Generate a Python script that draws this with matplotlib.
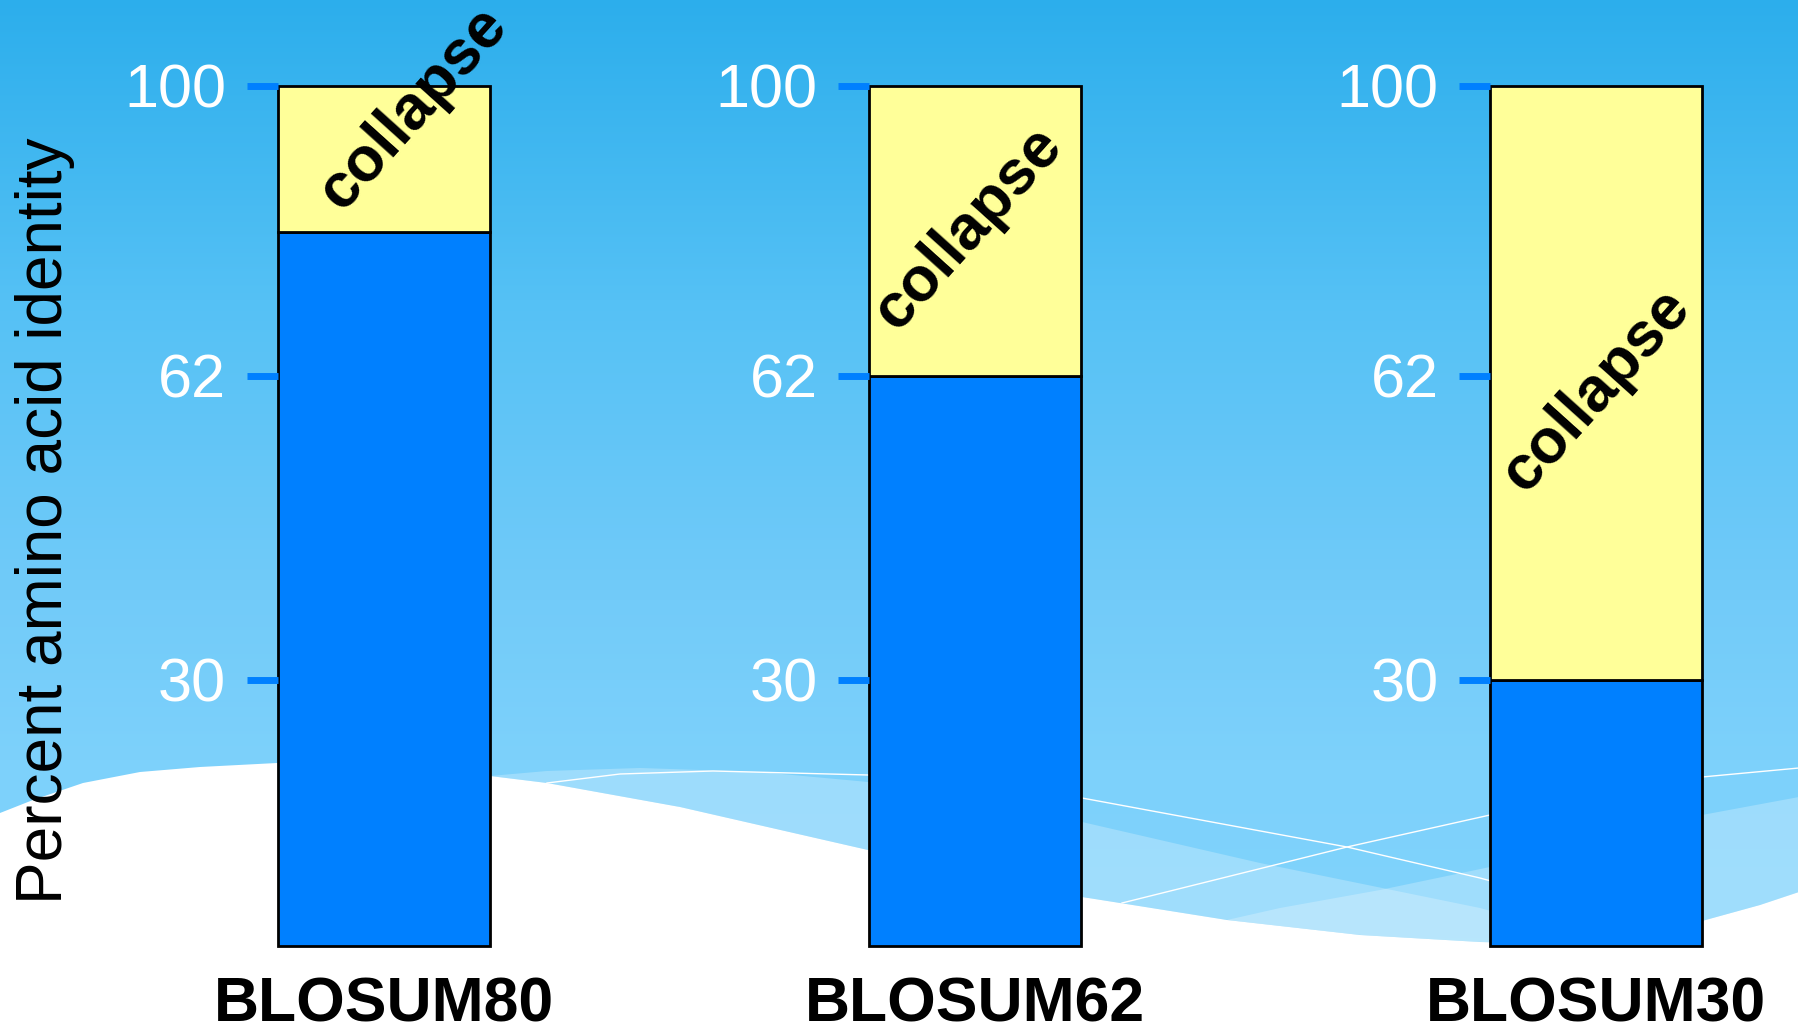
import numpy as np
import matplotlib
matplotlib.use("Agg")
import matplotlib.pyplot as plt

plt.rcParams['font.family'] = ['Liberation Sans', 'DejaVu Sans']

# Data: each matrix is good down to a given identity, below that it "collapses"
matrices = ["BLOSUM80", "BLOSUM62", "BLOSUM30"]
identity_cut = [80, 62, 30]
identity_top = [100, 100, 100]
ytick_values = [30, 62, 100]

# Schematic (non-linear) axis: value -> drawn height in px
scale_values = [0, 30, 62, 80, 100]
scale_heights = [0, 266, 570, 714, 860]

# Where the rotated "collapse" label sits (x offset in bar widths, y in axis units)
label_x = [0.14, -0.03, 0.0]
label_y = [97.0, 80.5, 60.5]

BLUE = "#0080ff"
YELLOW = "#ffff99"

W, H = 1799, 1027
fig = plt.figure(figsize=(W / 100, H / 100), dpi=100)

# ---- slide background: vertical gradient plus white waves at the bottom
bg = fig.add_axes([0, 0, 1, 1], zorder=-10)
rows = np.arange(H)
stops_y = [0, 300, 600, 760, 1027]
stops_rgb = np.array([[44, 174, 236], [85, 193, 245], [114, 203, 249],
                      [125, 209, 251], [130, 212, 252]]) / 255.0
grad = np.stack([np.interp(rows, stops_y, stops_rgb[:, c]) for c in range(3)], axis=1)
bg.imshow(grad[:, None, :], extent=(0, W, H, 0), aspect="auto", interpolation="bilinear")

white_edge = np.array([(0, 813), (33, 800), (83, 783), (140, 772), (200, 767), (277, 763),
                       (380, 767), (490, 776), (547, 783), (680, 807), (868, 850),
                       (1082, 897), (1120, 903), (1227, 920), (1360, 935), (1480, 942),
                       (1560, 944), (1630, 937), (1702, 921), (1760, 905), (1799, 892)])
band1_top = np.array([(490, 776), (547, 771), (640, 768), (760, 772), (868, 782),
                      (1082, 822), (1260, 863), (1480, 908), (1560, 930), (1620, 940)])
band2_top = np.array([(1227, 920), (1280, 908), (1380, 890), (1490, 867), (1600, 840),
                      (1702, 815), (1799, 797)])


def edge_between(x0, x1):
    xs = np.linspace(x0, x1, 80)
    return np.column_stack([xs, np.interp(xs, white_edge[:, 0], white_edge[:, 1])])


b1 = np.vstack([band1_top, edge_between(1620, 490)])
bg.fill(b1[:, 0], b1[:, 1], color="white", alpha=0.25, lw=0)
b2 = np.vstack([band2_top, edge_between(1799, 1227)])
bg.fill(b2[:, 0], b2[:, 1], color="white", alpha=0.25, lw=0)
wpoly = np.vstack([white_edge, [(W, H), (0, H)]])
bg.fill(wpoly[:, 0], wpoly[:, 1], color="white", lw=0)

line_a = np.array([(547, 783), (620, 774), (713, 771), (868, 775), (1082, 798),
                   (1347, 847), (1480, 878), (1560, 900)])
line_b = np.array([(1122, 903), (1347, 847), (1490, 815), (1702, 777), (1799, 768)])
bg.plot(line_a[:, 0], line_a[:, 1], color="white", lw=1)
bg.plot(line_b[:, 0], line_b[:, 1], color="white", lw=1)
bg.set_xlim(0, W)
bg.set_ylim(H, 0)
bg.axis("off")


# ---- one small axes per matrix
def fwd(v):
    return np.interp(v, scale_values, scale_heights)


def inv(h):
    return np.interp(h, scale_heights, scale_values)


bar_left_px = [277.5, 869, 1490]
bar_w_px = 212
bottom_px = 946

for i, name in enumerate(matrices):
    ax = fig.add_axes([bar_left_px[i] / W, (H - bottom_px) / H,
                       bar_w_px / W, scale_heights[-1] / H])
    ax.set_yscale("function", functions=(fwd, inv))
    ax.bar(0, identity_cut[i], width=1, color=BLUE, edgecolor="black",
           linewidth=2, clip_on=False)
    ax.bar(0, identity_top[i] - identity_cut[i], bottom=identity_cut[i], width=1,
           color=YELLOW, edgecolor="black", linewidth=2, clip_on=False)
    ax.set_xlim(-0.5, 0.5)
    ax.set_ylim(0, 100)
    ax.patch.set_alpha(0)
    for s in ax.spines.values():
        s.set_visible(False)

    ax.set_yticks(ytick_values)
    ax.set_yticklabels([str(v) for v in ytick_values])
    ax.yaxis.set_minor_locator(matplotlib.ticker.NullLocator())
    ax.tick_params(axis="y", length=22, width=5, color=BLUE, labelcolor="white",
                   labelsize=44, pad=15)

    ax.set_xticks([0])
    ax.set_xticklabels([name], fontsize=45, fontweight="bold")
    ax.tick_params(axis="x", length=0, pad=21)

    ax.text(label_x[i], label_y[i], "collapse", rotation=48, rotation_mode="anchor",
            ha="center", va="center", fontsize=45, fontweight="bold", clip_on=False)

fig.text(45 / W, 1 - 521 / H, "Percent amino acid identity", rotation=90,
         ha="center", va="center", fontsize=46)

fig.savefig("out.png", dpi=100)
